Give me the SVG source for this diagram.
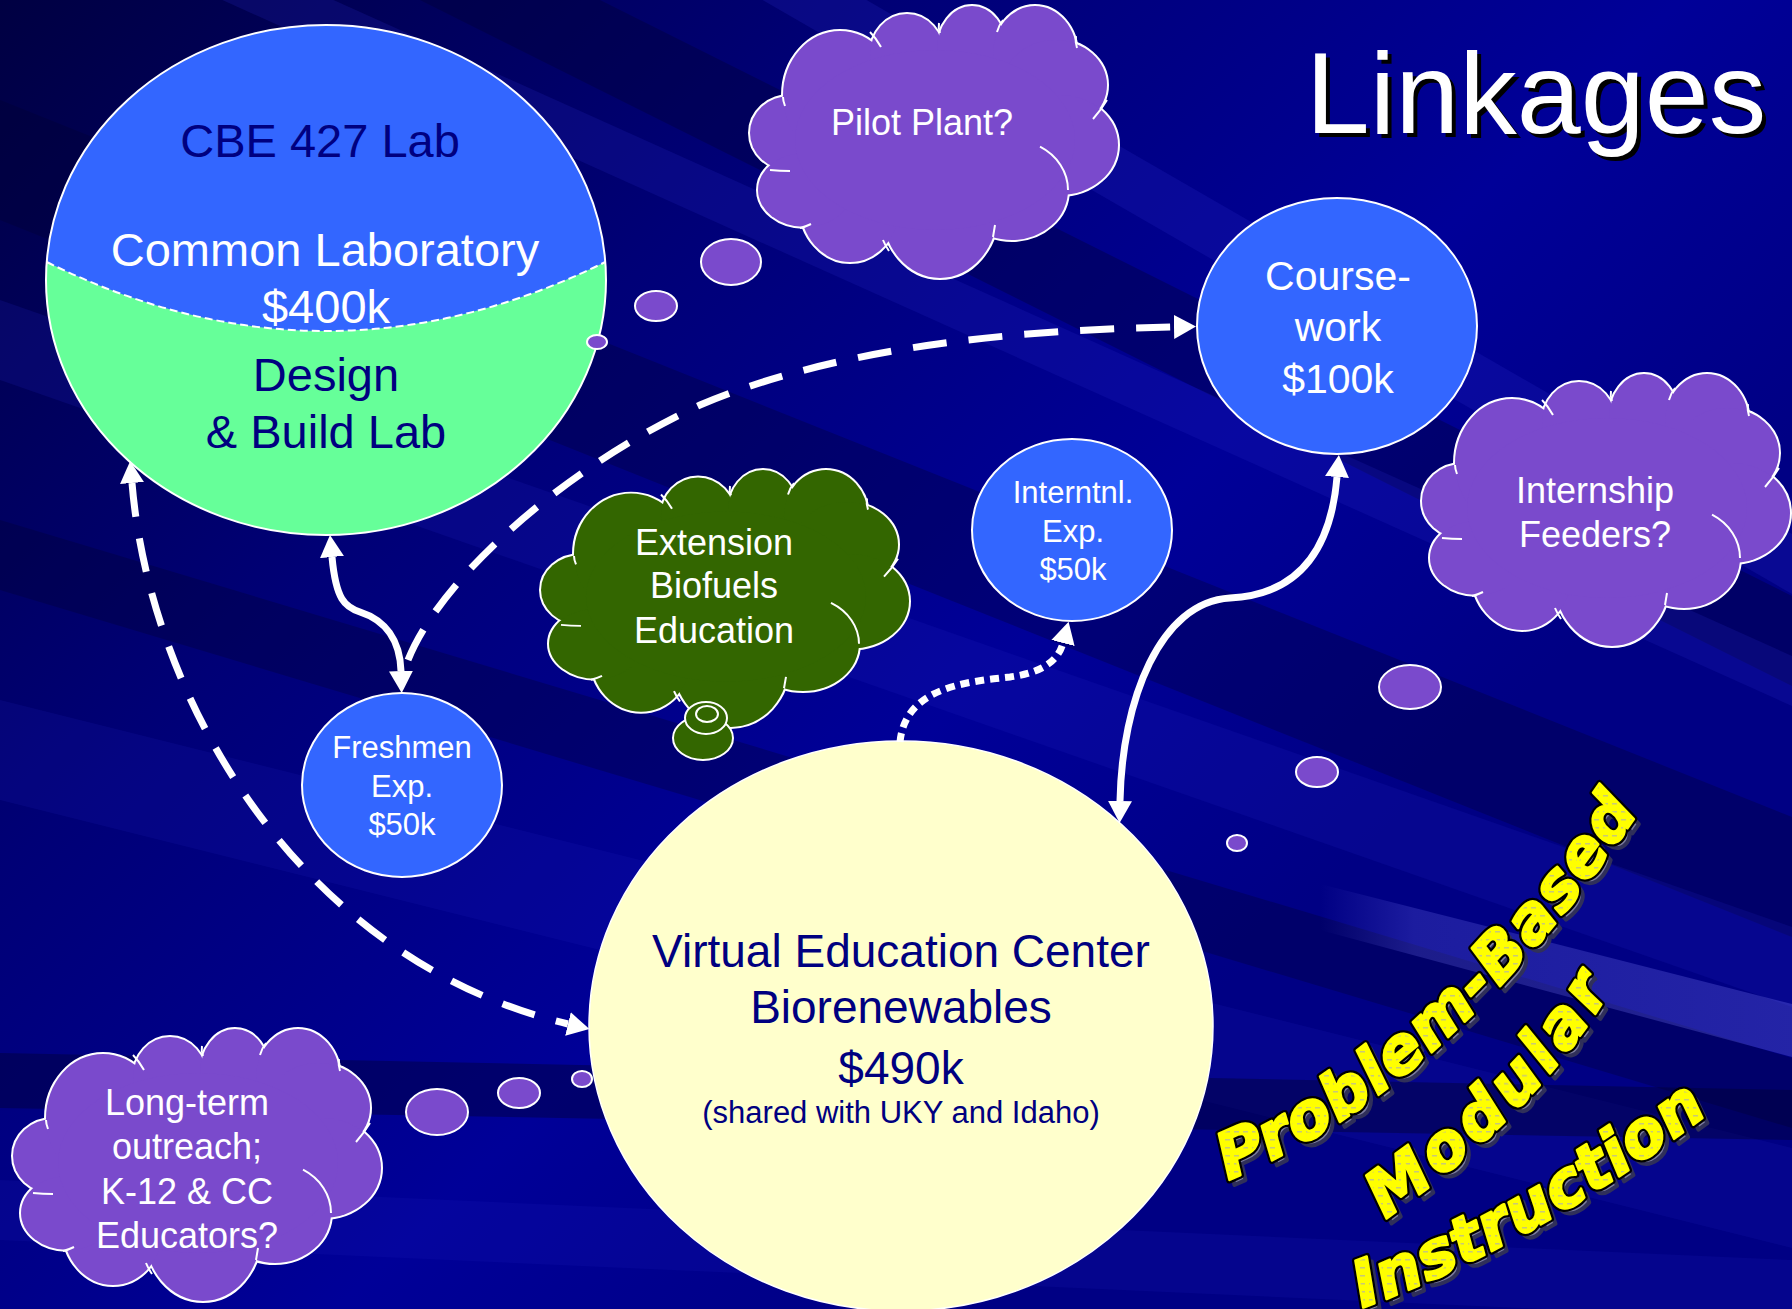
<svg xmlns="http://www.w3.org/2000/svg" xmlns:xlink="http://www.w3.org/1999/xlink" width="1792" height="1309" viewBox="0 0 1792 1309">
<style>
.t{font-family:"Liberation Sans",Arial,sans-serif;text-anchor:middle}
.w{fill:#fff}
.n{fill:#000080}
.bub{fill:#7A4ACC;stroke:#fff;stroke-width:2}
.gbub{fill:#336600;stroke:#fff;stroke-width:2}
.node{fill:#3366FF;stroke:#fff;stroke-width:2}
.conn{fill:none;stroke:#fff;stroke-width:7}
.wa{font-family:"DejaVu Sans","Liberation Sans",sans-serif;font-weight:bold;font-style:oblique;font-size:64px;stroke-linejoin:round}
</style>
<defs>
<linearGradient id="bg" x1="0" y1="0" x2="0.8" y2="0.6">
<stop offset="0" stop-color="#000042"/>
<stop offset="0.4" stop-color="#000076"/>
<stop offset="0.75" stop-color="#000098"/>
<stop offset="1" stop-color="#000084"/>
</linearGradient>
<linearGradient id="glow" x1="1320" y1="0" x2="1792" y2="0" gradientUnits="userSpaceOnUse">
<stop offset="0" stop-color="#8080FF" stop-opacity="0"/>
<stop offset="0.2" stop-color="#8080FF" stop-opacity="0.22"/>
<stop offset="1" stop-color="#8080FF" stop-opacity="0.28"/>
</linearGradient>
<pattern id="yel" patternUnits="userSpaceOnUse" width="9" height="8">
<rect width="9" height="8" fill="#FFFF00"/>
<rect x="1" y="3" width="5" height="1.5" fill="#C8C878"/>
</pattern>
<g id="cloudBumps">
<ellipse cx="40" cy="128" rx="40" ry="37"/>
<ellipse cx="90" cy="90" rx="57" ry="64"/>
<ellipse cx="157" cy="50" rx="37" ry="41"/>
<ellipse cx="222" cy="45" rx="35" ry="44"/>
<ellipse cx="285" cy="50" rx="42" ry="49"/>
<ellipse cx="305" cy="80" rx="52" ry="45"/>
<ellipse cx="310" cy="140" rx="58" ry="50"/>
<ellipse cx="262" cy="185" rx="56" ry="50"/>
<ellipse cx="190" cy="205" rx="58" ry="68"/>
<ellipse cx="100" cy="200" rx="50" ry="57"/>
<ellipse cx="55" cy="185" rx="47" ry="37"/>
<ellipse cx="185" cy="135" rx="140" ry="90"/>
</g>
<g id="cloud">
<use xlink:href="#cloudBumps" fill="none" stroke="#fff" stroke-width="4"/>
<use xlink:href="#cloudBumps" fill="currentColor" stroke="none"/>
<g fill="none" stroke="#fff" stroke-width="2">
<path d="M120 27 Q126 33 131 42"/>
<path d="M190 28 Q188 23 189 18"/>
<path d="M247 27 Q249 20 253 15"/>
<path d="M327 43 Q325 37 326 31"/>
<path d="M343 114 Q351 105 357 95"/>
<path d="M290 141.7 A56 50 0 0 1 318 185"/>
<path d="M245 220 Q244 226 243 232"/>
<path d="M133 235 Q135 240 139 246"/>
<path d="M50 223 Q55 222 61 219"/>
<path d="M20 165 Q30 166 40 166"/>
<path d="M33 92 Q33 96 35 101"/>
</g>
</g>
<marker id="ah" markerUnits="userSpaceOnUse" viewBox="0 0 22 24" markerWidth="22" markerHeight="24" refX="0" refY="12" orient="auto-start-reverse">
<path d="M0 0 L22 12 L0 24 Z" fill="#fff"/>
</marker>
</defs>

<g id="background">
<rect width="1792" height="1309" fill="url(#bg)"/>
<polygon points="0,-500 1792,534 1792,594 0,-440" fill="#2828C8" opacity="0.22"/>
<polygon points="0,-300 1792,596 1792,686 0,-210" fill="#000030" opacity="0.35"/>
<polygon points="0,-150 1792,656 1792,706 0,-100" fill="#2828C8" opacity="0.2"/>
<polygon points="0,100 1792,817 1792,937 0,220" fill="#000030" opacity="0.3"/>
<polygon points="0,300 1792,927 1792,1007 0,380" fill="#2020C0" opacity="0.18"/>
<polygon points="0,520 1792,1058 1792,1128 0,590" fill="#000030" opacity="0.3"/>
<polygon points="0,700 1792,1148 1792,1248 0,800" fill="#2020C0" opacity="0.15"/>
<polygon points="0,1053 1792,1090 1792,1140 0,1108" fill="#000030" opacity="0.4"/>
<polygon points="0,1180 1792,1260 1792,1320 0,1240" fill="#2020C0" opacity="0.15"/>
<polygon points="1320,884 1792,1004 1792,1057 1320,930" fill="url(#glow)"/>
</g>

<g id="title">
<text class="t" x="1540" y="137" font-size="115" fill="#000">Linkages</text>
<text class="t w" x="1536" y="133" font-size="115">Linkages</text>
</g>

<g id="node-common-lab">
<ellipse cx="326" cy="280" rx="280" ry="255" fill="#3366FF"/>
<path d="M46.7 262 Q326 400 605.3 262 A280 255 0 1 1 46.7 262 Z" fill="#66FF99"/>
<path d="M46.7 262 Q326 400 605.3 262" fill="none" stroke="#fff" stroke-width="2" stroke-dasharray="8 4"/>
<ellipse cx="326" cy="280" rx="280" ry="255" fill="none" stroke="#fff" stroke-width="2"/>
<text class="t n" x="320" y="157" font-size="47">CBE 427 Lab</text>
<text class="t w" x="325" y="266" font-size="47">Common Laboratory</text>
<text class="t w" x="326" y="323" font-size="47">$400k</text>
<text class="t n" x="326" y="391" font-size="47">Design</text>
<text class="t n" x="326" y="448" font-size="47">&amp; Build Lab</text>
</g>

<g id="node-pilot-plant">
<use xlink:href="#cloud" transform="translate(750,5)" color="#7A4ACC"/>
<text class="t w" x="922" y="135" font-size="36">Pilot Plant?</text>
<ellipse class="bub" cx="731" cy="262" rx="30" ry="23"/>
<ellipse class="bub" cx="656" cy="306" rx="21" ry="15"/>
<ellipse class="bub" cx="597" cy="342" rx="10" ry="7"/>
</g>

<g id="node-coursework">
<ellipse class="node" cx="1337" cy="326" rx="140" ry="128"/>
<text class="t w" x="1338" y="290" font-size="41">Course-</text>
<text class="t w" x="1338" y="341" font-size="41">work</text>
<text class="t w" x="1338" y="393" font-size="41">$100k</text>
</g>

<g id="node-internship">
<use xlink:href="#cloud" transform="translate(1422,373)" color="#7A4ACC"/>
<text class="t w" x="1595" y="503" font-size="36">Internship</text>
<text class="t w" x="1595" y="547" font-size="36">Feeders?</text>
<ellipse class="bub" cx="1410" cy="687" rx="31" ry="22"/>
<ellipse class="bub" cx="1317" cy="772" rx="21" ry="15"/>
<ellipse class="bub" cx="1237" cy="843" rx="10" ry="8"/>
</g>

<g id="node-interntnl">
<ellipse class="node" cx="1072" cy="530" rx="100" ry="91"/>
<text class="t w" x="1073" y="503" font-size="31">Interntnl.</text>
<text class="t w" x="1073" y="542" font-size="31">Exp.</text>
<text class="t w" x="1073" y="580" font-size="31">$50k</text>
</g>

<g id="node-extension">
<use xlink:href="#cloud" transform="translate(541,469) scale(1,0.945)" color="#336600"/>
<ellipse class="gbub" cx="703" cy="738" rx="30" ry="22"/>
<ellipse class="gbub" cx="706" cy="718" rx="21" ry="16"/>
<ellipse class="gbub" cx="707" cy="714" rx="11" ry="8"/>
<text class="t w" x="714" y="555" font-size="36">Extension</text>
<text class="t w" x="714" y="598" font-size="36">Biofuels</text>
<text class="t w" x="714" y="643" font-size="36">Education</text>
</g>

<g id="node-freshmen">
<ellipse class="node" cx="402" cy="785" rx="100" ry="92"/>
<text class="t w" x="402" y="758" font-size="31">Freshmen</text>
<text class="t w" x="402" y="797" font-size="31">Exp.</text>
<text class="t w" x="402" y="835" font-size="31">$50k</text>
</g>

<g id="node-virtual">
<ellipse cx="901" cy="1026" rx="312" ry="285" fill="#FFFFCC" stroke="#fff" stroke-width="1.5"/>
<text class="t n" x="901" y="967" font-size="46">Virtual Education Center</text>
<text class="t n" x="901" y="1023" font-size="46">Biorenewables</text>
<text class="t n" x="901" y="1084" font-size="46">$490k</text>
<text class="t n" x="901" y="1123" font-size="31">(shared with UKY and Idaho)</text>
</g>

<g id="node-longterm">
<use xlink:href="#cloud" transform="translate(13,1028)" color="#7A4ACC"/>
<text class="t w" x="187" y="1115" font-size="36">Long-term</text>
<text class="t w" x="187" y="1159" font-size="36">outreach;</text>
<text class="t w" x="187" y="1204" font-size="36">K-12 &amp; CC</text>
<text class="t w" x="187" y="1248" font-size="36">Educators?</text>
<ellipse class="bub" cx="437" cy="1112" rx="31" ry="23"/>
<ellipse class="bub" cx="519" cy="1093" rx="21" ry="15"/>
<ellipse class="bub" cx="582" cy="1079" rx="10" ry="8"/>
</g>

<g id="connectors">
<path class="conn" d="M332 557 C336 600 345 607 360 612 C385 620 400 640 401 671" marker-start="url(#ah)" marker-end="url(#ah)"/>
<path class="conn" d="M408 660 C440 580 560 470 700 405 C830 350 1000 330 1174 327" stroke-dasharray="34 22" marker-end="url(#ah)"/>
<path class="conn" d="M132 483 C150 700 300 960 568 1024" stroke-dasharray="34 22" marker-start="url(#ah)" marker-end="url(#ah)"/>
<path class="conn" d="M900 742 C905 690 960 682 1010 677 C1040 673 1058 662 1063 643" stroke-dasharray="9 6" marker-end="url(#ah)"/>
<path class="conn" d="M1337 477 C1330 560 1290 595 1230 598 C1160 602 1122 700 1120 801" marker-start="url(#ah)" marker-end="url(#ah)"/>
</g>

<g id="wordart">
<path id="wa1" d="M1228 1180 Q1452 1090 1644 804" fill="none"/>
<path id="wa2" d="M1385 1219 Q1544 1109 1619 975" fill="none"/>
<path id="wa3" d="M1362 1308 Q1534 1246 1717 1107" fill="none"/>
<g transform="translate(5,5)" fill="#7C7CA0" stroke="#30305A" stroke-width="4" class="wa">
<text><textPath xlink:href="#wa1" textLength="560" lengthAdjust="spacing">Problem-Based</textPath></text>
<text><textPath xlink:href="#wa2" textLength="325" lengthAdjust="spacing">Modular</textPath></text>
<text><textPath xlink:href="#wa3" textLength="400" lengthAdjust="spacing">Instruction</textPath></text>
</g>
<g fill="#000" stroke="#000" stroke-width="7" class="wa">
<text><textPath xlink:href="#wa1" textLength="560" lengthAdjust="spacing">Problem-Based</textPath></text>
<text><textPath xlink:href="#wa2" textLength="325" lengthAdjust="spacing">Modular</textPath></text>
<text><textPath xlink:href="#wa3" textLength="400" lengthAdjust="spacing">Instruction</textPath></text>
</g>
<g fill="url(#yel)" stroke="#FFFF00" stroke-width="2.5" class="wa">
<text><textPath xlink:href="#wa1" textLength="560" lengthAdjust="spacing">Problem-Based</textPath></text>
<text><textPath xlink:href="#wa2" textLength="325" lengthAdjust="spacing">Modular</textPath></text>
<text><textPath xlink:href="#wa3" textLength="400" lengthAdjust="spacing">Instruction</textPath></text>
</g>
</g>
</svg>
